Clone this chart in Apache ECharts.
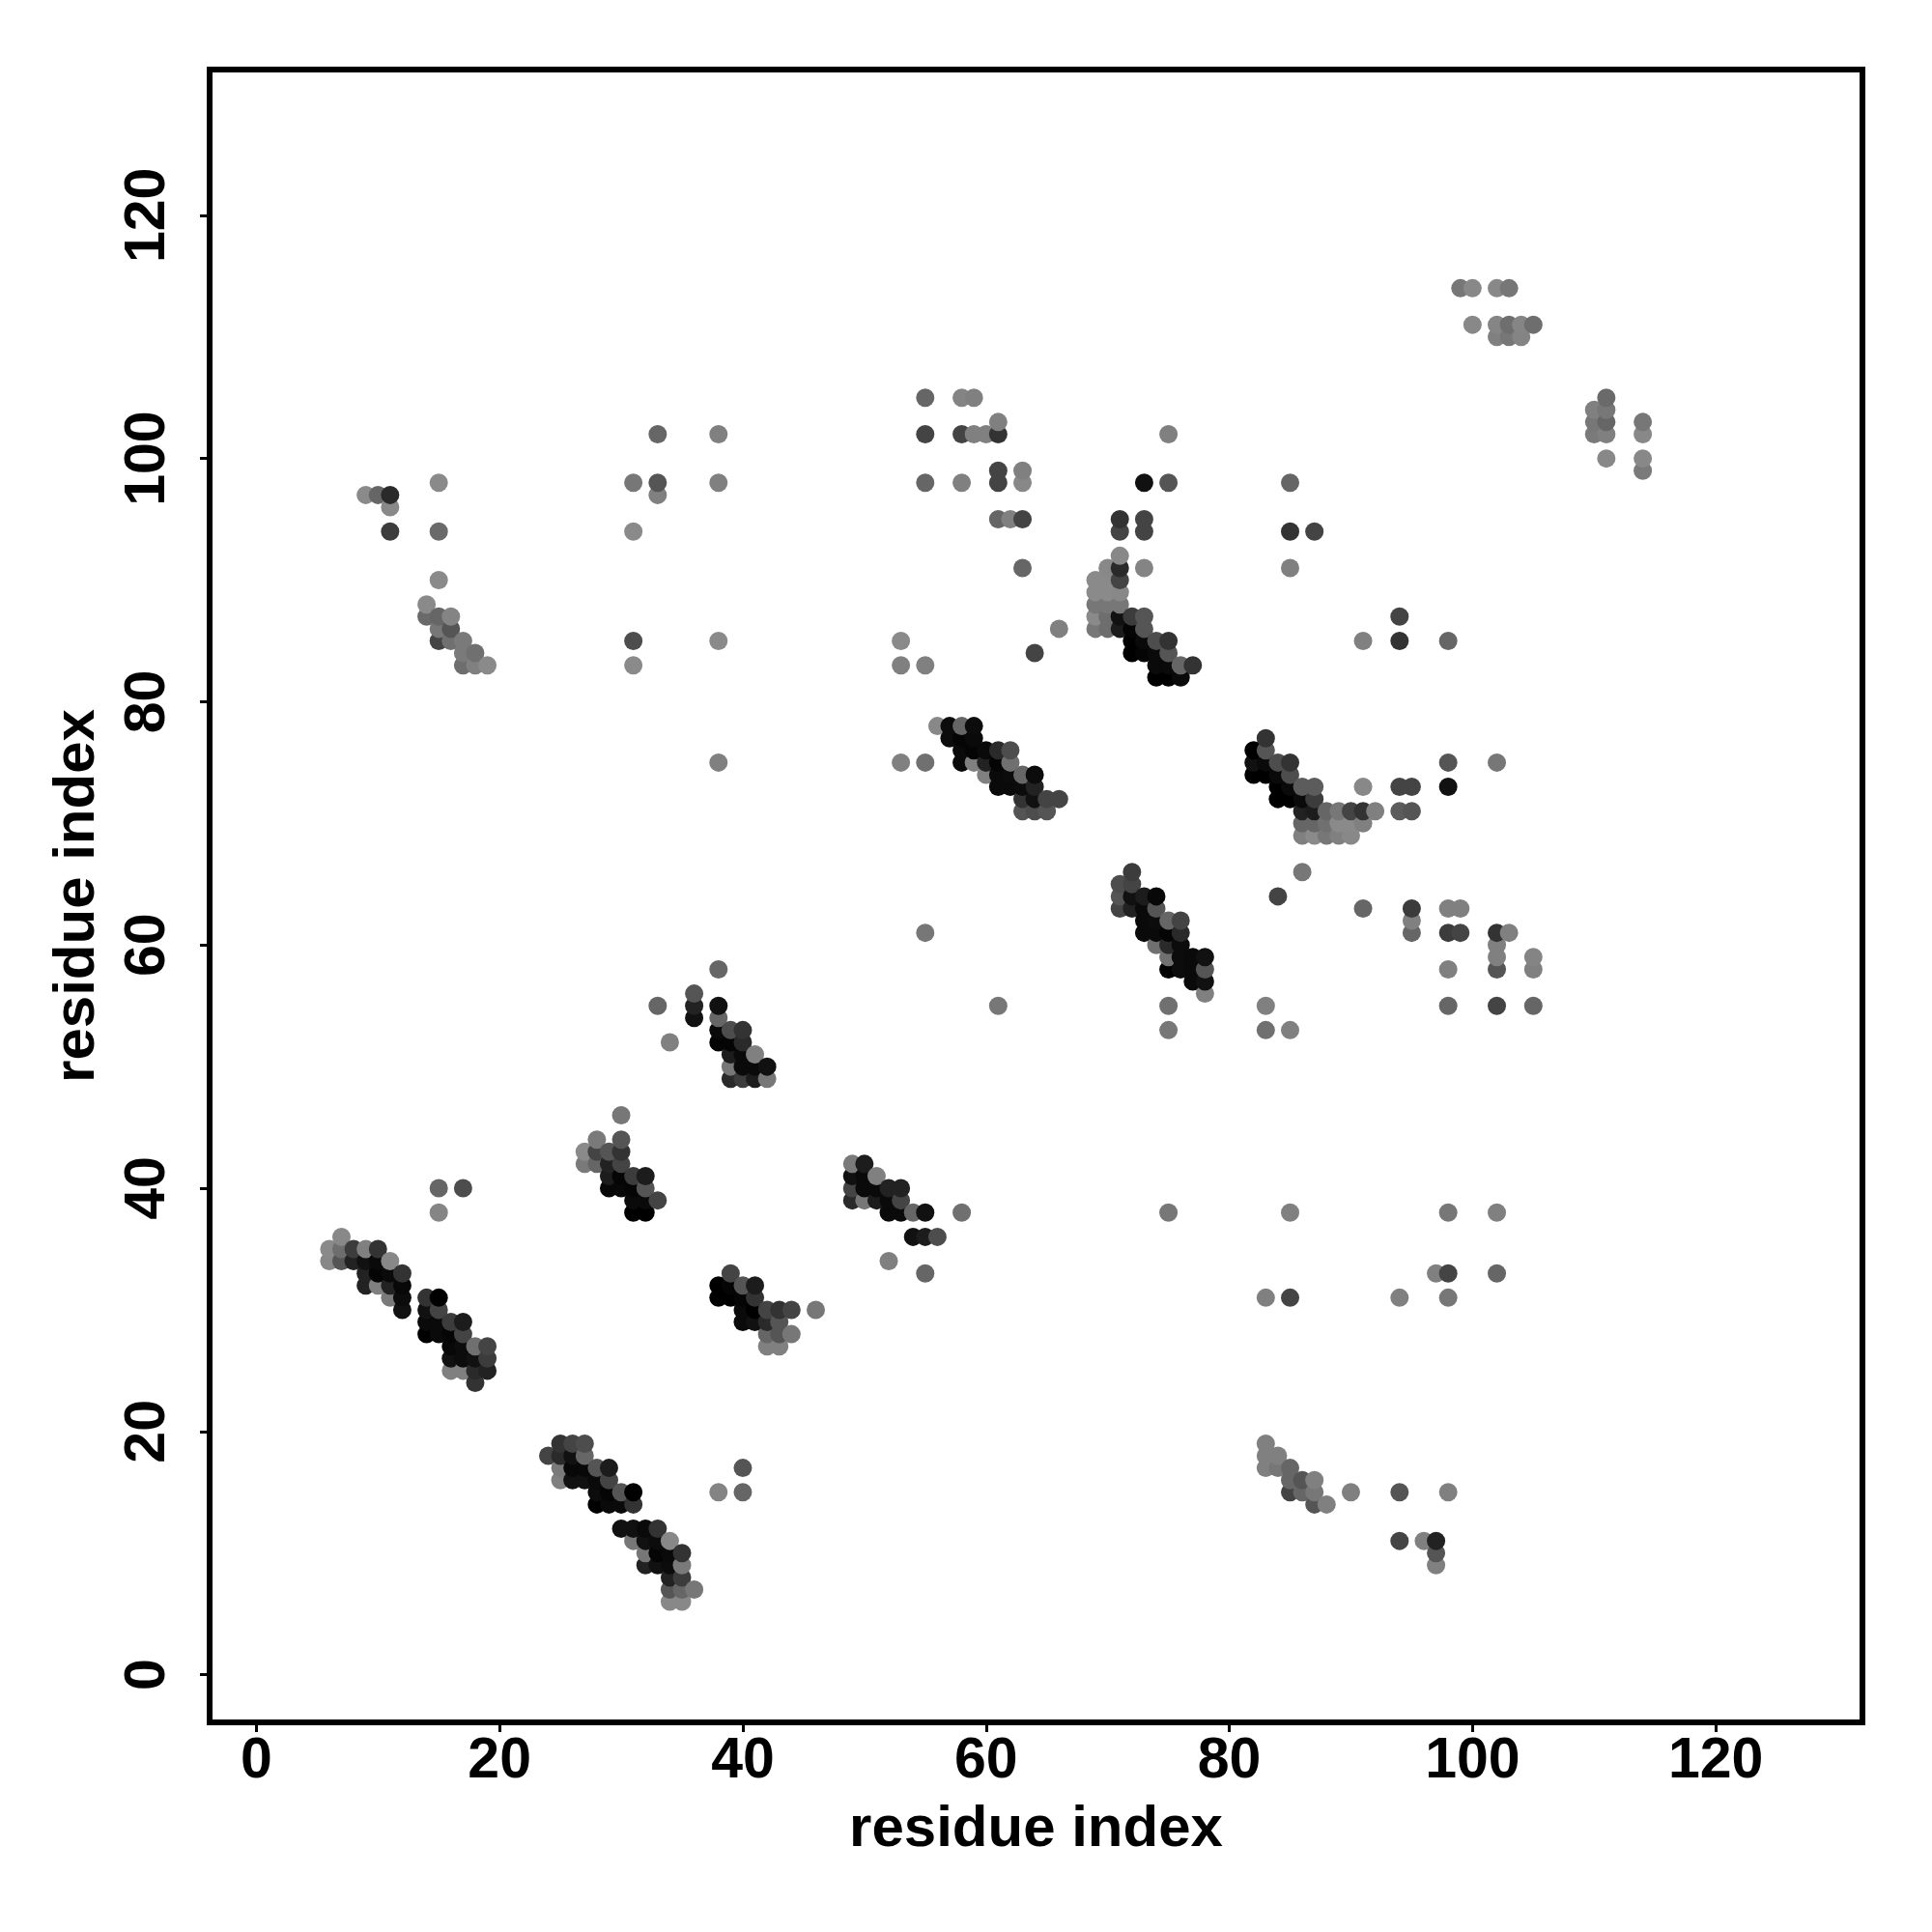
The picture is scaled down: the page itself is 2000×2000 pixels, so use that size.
<!DOCTYPE html>
<html>
<head>
<meta charset="utf-8">
<style>html,body{margin:0;padding:0;background:#fff}#c{width:2000px;height:2000px}</style>
<script src="https://cdn.jsdelivr.net/npm/echarts@6/dist/echarts.min.js"></script>
</head>
<body>
<div id="c"></div>
<script>
// [residue x, residue y, grey level of the contact]
const xTicks = [0, 20, 40, 60, 80, 100, 120];
const yTicks = [0, 20, 40, 60, 80, 100, 120];
const xTitle = "residue index";
const yTitle = "residue index";

const strandA = [[7,36,136],[6,35,138],[7,35,110],[8,35,60],[9,35,128],[10,35,51],[6,34,136],[7,34,85],[8,34,34],[9,34,17],[10,34,10],[11,34,136],
[9,33,34],[10,33,5],[11,33,10],[12,33,51],[9,32,34],[10,32,128],[11,32,34],[12,32,8],[11,31,122],[12,31,12],[12,30,17]];
const strandB = [[14,31,51],[15,31,0],[14,30,17],[15,30,68],[14,29,10],[15,29,10],[16,29,60],[17,29,28],[14,28,0],[15,28,10],[16,28,5],[17,28,68],
[16,27,8],[17,27,12],[18,27,112],[19,27,68],[16,26,17],[17,26,12],[18,26,17],[19,26,60],[16,25,128],[17,25,128],[18,25,42],[19,25,34],[18,24,51]];
const strandC = [[25,19,51],[26,19,68],[27,19,77],[24,18,68],[25,18,42],[26,18,17],[27,18,102],[25,17,122],[26,17,8],[27,17,8],[28,17,85],[29,17,28],
[25,16,128],[26,16,17],[27,16,17],[28,16,10],[29,16,68],[28,15,12],[29,15,5],[30,15,85],[31,15,0],[28,14,0],[29,14,10],[30,14,10],[31,14,51]];
const strandD = [[30,12,17],[31,12,17],[32,12,10],[33,12,51],[31,11,119],[32,11,17],[33,11,12],[34,11,136],[32,10,119],[33,10,5],[34,10,10],[35,10,51],
[32,9,34],[33,9,17],[34,9,12],[35,9,122],[34,8,34],[35,8,60],[34,7,85],[35,7,102],[36,7,119],[34,6,136],[35,6,136]];
const strandE = [[30,46,119],[28,44,122],[30,44,85],[27,43,138],[28,43,68],[29,43,85],[30,43,51],[27,42,122],[28,42,102],[29,42,34],[30,42,68],
[29,41,28],[30,41,5],[31,41,60],[32,41,28],[29,40,8],[30,40,8],[31,40,5],[32,40,85],[31,39,10],[32,39,10],[33,39,68],[31,38,0],[32,38,0]];
const strandF = [[39,33,68],[38,32,0],[39,32,5],[40,32,85],[41,32,28],[38,31,0],[39,31,0],[40,31,5],[41,31,51],[40,30,10],[41,30,0],[42,30,68],[43,30,51],[44,30,68],[46,30,119],
[40,29,10],[41,29,17],[42,29,42],[43,29,85],[42,28,102],[43,28,85],[44,28,119],[42,27,128],[43,27,128]];
const strandG = [[38,58,102],[36,56,85],[33,55,102],[36,55,34],[38,55,17],[36,54,17],[38,54,102],[34,52,128],[38,53,10],[39,53,77],[40,53,51],[38,52,5],[39,52,5],[40,52,42],
[39,51,28],[40,51,10],[41,51,128],[39,50,119],[40,50,10],[41,50,10],[42,50,17],[39,49,42],[40,49,60],[41,49,28],[42,49,119]];
const strandH = [[49,42,122],[50,42,28],[49,41,17],[50,41,10],[51,41,128],[49,40,68],[50,40,10],[51,40,10],[52,40,34],[53,40,34],[49,39,42],[50,39,119],[51,39,28],[52,39,10],[53,39,68],
[52,38,10],[53,38,10],[54,38,102],[55,38,17],[58,38,112],[54,36,17],[55,36,28],[56,36,77],[52,34,128],[55,33,102]];
const strandI = [[56,78,136],[57,78,12],[58,78,102],[59,78,12],[57,77,12],[58,77,5],[59,77,10],[58,76,10],[59,76,5],[60,76,10],[61,76,42],[62,76,77],[58,75,10],[59,75,128],[60,75,34],[61,75,5],[62,75,112],
[60,74,128],[61,74,10],[62,74,12],[63,74,102],[64,74,12],[61,73,10],[62,73,10],[63,73,12],[64,73,34],[63,72,51],[64,72,17],[65,72,68],[66,72,68],[63,71,85],[64,71,77],[65,71,85]];
const strandJ = [[71,92,136],[70,91,136],[71,91,42],[69,90,138],[70,90,138],[71,90,68],[69,89,138],[70,89,138],[71,89,136],[69,88,119],[70,88,119],[71,88,119],[69,87,138],[70,87,110],[71,87,17],[69,86,119],[70,86,110],[71,86,28],
[72,87,60],[73,87,85],[72,86,5],[73,86,85],[72,85,0],[73,85,10],[74,85,77],[75,85,51],[72,84,0],[73,84,5],[74,84,10],[75,84,85],[74,83,10],[75,83,10],[76,83,102],[77,83,51],[74,82,0],[75,82,0],[76,82,10]];
const strandK = [[72,66,60],[71,65,77],[72,65,68],[71,64,85],[72,64,17],[73,64,28],[74,64,8],[71,63,68],[72,63,34],[73,63,10],[74,63,85],[73,62,10],[74,62,12],[75,62,102],[76,62,68],
[73,61,10],[74,61,10],[75,61,5],[76,61,42],[74,60,112],[75,60,42],[76,60,12],[75,59,112],[76,59,12],[77,59,10],[78,59,17],[75,58,0],[76,58,12],[77,58,10],[78,58,85],[77,57,10],[78,57,17],[78,56,128]];
const strandL = [[83,77,51],[82,76,0],[83,76,85],[82,75,17],[83,75,10],[84,75,77],[85,75,51],[82,74,0],[83,74,0],[84,74,10],[85,74,77],[84,73,0],[85,73,10],[86,73,92],[87,73,92],[84,72,0],[85,72,0],[86,72,10],[87,72,60],
[86,71,34],[87,71,28],[88,71,102],[89,71,119],[90,71,68],[91,71,51],[92,71,128],[86,70,102],[87,70,102],[88,70,112],[89,70,138],[90,70,138],[91,70,128],[86,69,128],[87,69,138],[88,69,119],[89,69,128],[90,69,136]];
const scatterLowerLeft = [[15,40,102],[17,40,77],[15,38,133],[38,15,132],[40,17,85],[40,15,102]];
const scatterUpperLeft = [[9,97,138],[10,97,102],[11,97,42],[11,96,136],[11,94,60],[15,98,138],[15,94,106],[15,90,138],[31,98,119],[33,98,85],[33,97,128],[31,94,138],[33,102,102],[38,102,128],[38,98,128],[31,85,77],[31,83,138],[38,85,138],[38,75,128]];
const strandM = [[14,88,138],[14,87,106],[15,87,102],[16,87,132],[15,86,119],[16,86,85],[15,85,68],[16,85,112],[17,85,122],[17,84,122],[18,84,112],[17,83,110],[18,83,128],[19,83,138]];
const scatterTopMiddle = [[53,85,138],[53,83,128],[55,83,128],[53,75,128],[55,75,112],[55,105,102],[55,102,68],[55,98,102],[58,105,132],[59,105,128],[58,102,68],[59,102,128],[60,102,128],[61,102,51],[61,103,128],[58,98,128],
[61,99,68],[61,98,68],[63,99,128],[63,98,136],[61,95,102],[62,95,128],[63,95,68],[63,91,102],[64,84,68],[66,86,128],[71,95,51],[71,94,68],[73,95,68],[73,94,68],[73,98,17],[75,98,85],[75,102,128],[73,91,132]];
const scatterRight = [[85,98,102],[85,94,51],[87,94,68],[85,91,128],[91,85,128],[94,87,68],[94,85,51],[98,85,102],[98,75,85],[102,75,119],[91,73,136],[94,73,68],[95,73,68],[98,73,17],[94,71,92],[95,71,85],
[84,64,68],[86,66,119],[91,63,102],[95,63,60],[95,62,128],[95,61,102],[98,63,128],[99,63,128],[98,61,60],[99,61,68],[102,61,51],[103,61,128],[102,60,128],[102,59,128],[102,58,85],[105,59,132],[105,58,128],[98,58,128],[98,55,102],[102,55,68],[105,55,102],
[83,55,128],[83,53,112],[85,53,128],[75,55,112],[75,53,119],[61,55,119],[55,61,119]];
const scatterLowerRight = [[75,38,119],[85,38,128],[98,38,119],[102,38,128],[97,33,128],[98,33,68],[102,33,102],[83,31,128],[85,31,68],[94,31,128],[98,31,119],
[83,19,128],[83,18,128],[84,18,128],[83,17,128],[84,17,119],[85,17,102],[85,16,102],[86,16,85],[87,16,128],[85,15,68],[86,15,102],[87,15,119],[87,14,85],[88,14,128],[90,15,128],[94,15,85],[98,15,128],[94,11,68],[96,11,128],[97,11,34],[97,10,85],[97,9,128]];
const strandN = [[99,114,119],[100,114,136],[102,114,136],[103,114,119],[100,111,136],[102,111,133],[103,111,110],[104,111,133],[105,111,110],[102,110,128],[103,110,119],[104,110,132]];
const strandO = [[111,105,106],[110,104,128],[111,104,119],[110,103,119],[111,103,102],[110,102,122],[111,102,128],[111,100,136],[114,103,119],[114,102,136],[114,100,136],[114,99,122]];

const contacts = [].concat(strandA,strandB,strandC,strandD,strandE,strandF,strandG,strandH,strandI,strandJ,strandK,strandL,strandM,strandN,strandO,
  scatterLowerLeft,scatterUpperLeft,scatterTopMiddle,scatterRight,scatterLowerRight)
  .sort((a,b)=>a[0]-b[0]||a[1]-b[1]);

const font = "'Liberation Sans', Arial, sans-serif";
const tickStyle = {color:'#000',fontFamily:font,fontWeight:'bold',fontSize:59};
const nameStyle = {color:'#000',fontFamily:font,fontWeight:'bold',fontSize:60};
function axis(ticks,title,range,extra){
  return Object.assign({
    type:'value',min:range[0],max:range[1],name:title,nameLocation:'middle',
    nameTextStyle:nameStyle,splitLine:{show:false},
    axisLine:{show:false,onZero:false},
    axisTick:{show:true,length:10,inside:false,customValues:ticks,lineStyle:{color:'#000',width:3}},
  },extra);
}
const chart = echarts.init(document.getElementById('c'),null,{renderer:'canvas',width:2000,height:2000});
chart.setOption({
  animation:false,backgroundColor:'#fff',
  grid:{left:217,right:72,top:72,bottom:217,show:true,borderColor:'#000',borderWidth:6,backgroundColor:'transparent',containLabel:false},
  xAxis:axis(xTicks,xTitle,[-3.84,132.06],{nameGap:81,axisLabel:Object.assign({},tickStyle,{margin:11,customValues:xTicks,showMinLabel:true,showMaxLabel:true})}),
  yAxis:axis(yTicks,yTitle,[-3.92,131.98],{nameGap:107,axisLabel:Object.assign({},tickStyle,{rotate:90,margin:63,align:'center',verticalAlign:'middle',customValues:yTicks})}),
  series:[{type:'scatter',symbol:'circle',symbolSize:19,data:contacts,clip:false,
    itemStyle:{opacity:1,color:p=>{const v=p.data[2];return `rgb(${v},${v},${v})`;}}}]
});
</script>
</body>
</html>
